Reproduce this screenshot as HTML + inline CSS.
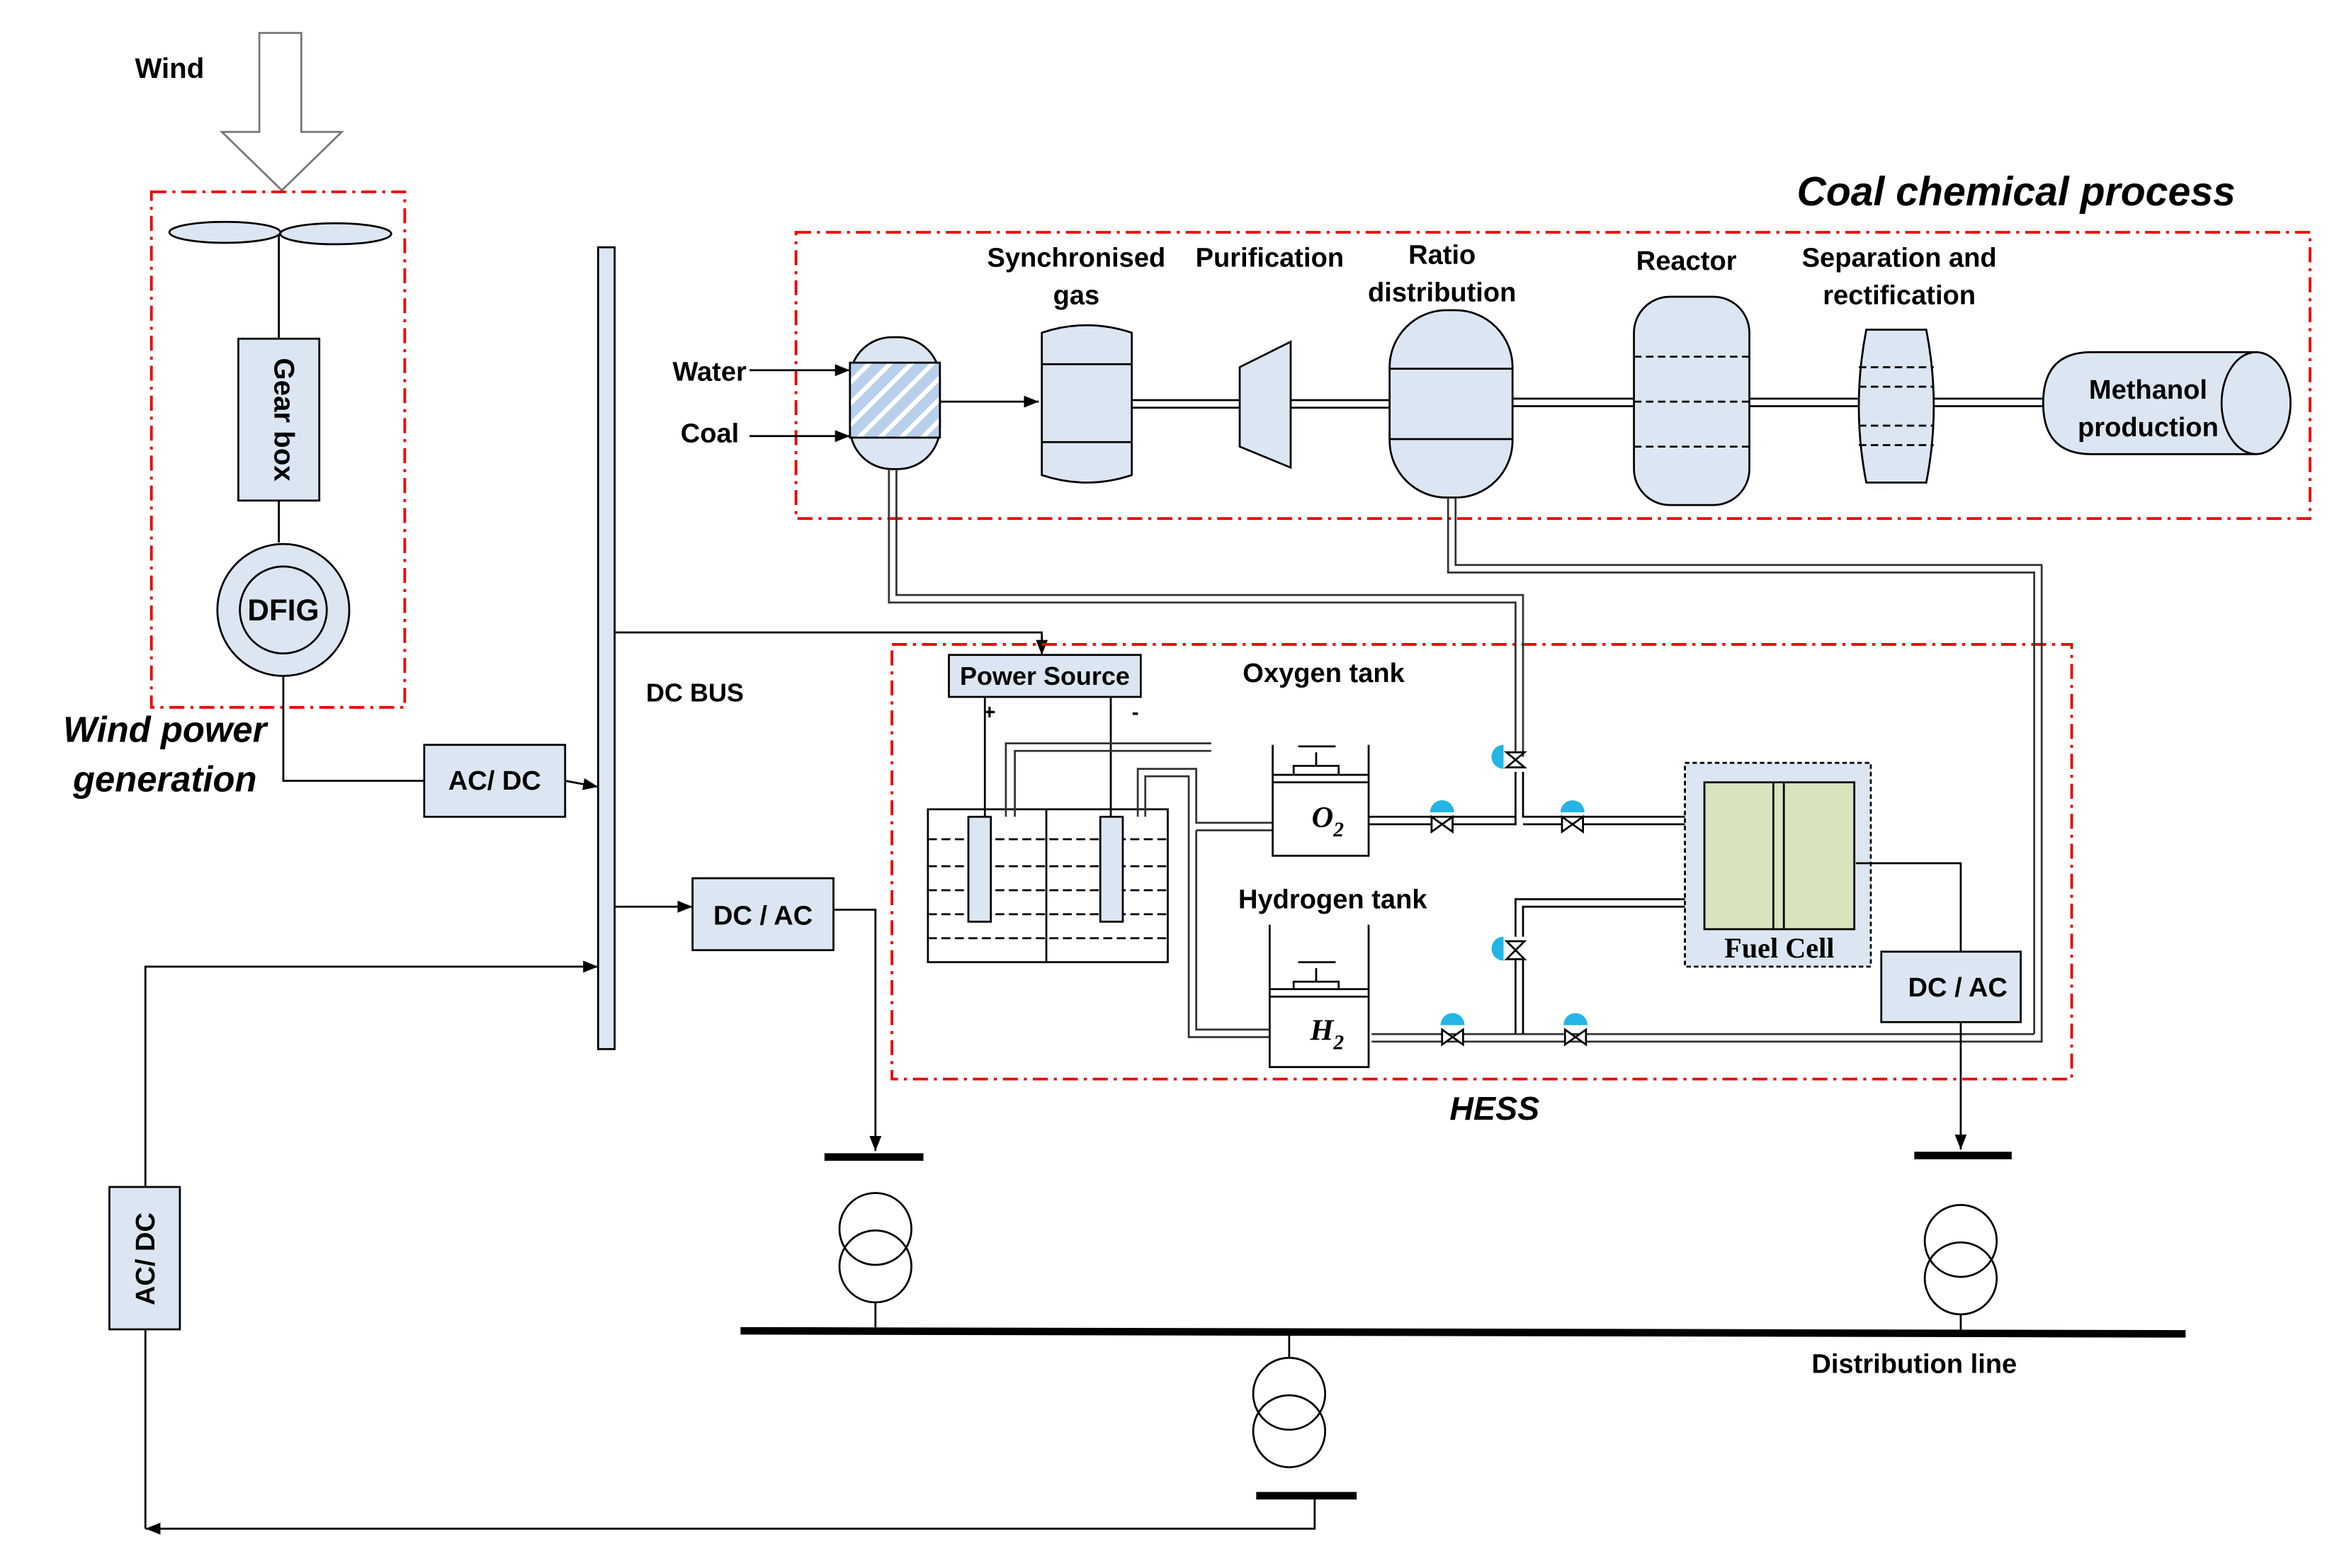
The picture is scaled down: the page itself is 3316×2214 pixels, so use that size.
<!DOCTYPE html>
<html><head><meta charset="utf-8"><style>html,body{margin:0;padding:0;background:#fff}svg{display:block}</style></head><body>
<svg width="3316" height="2214" viewBox="0 0 1567 1046" preserveAspectRatio="xMinYMin meet" xmlns="http://www.w3.org/2000/svg" font-family="Liberation Sans, sans-serif" font-weight="bold">
<defs>
<marker id="a" markerWidth="10" markerHeight="8" refX="10" refY="4" orient="auto" markerUnits="userSpaceOnUse"><path d="M0,0 L10,4 L0,8 z" fill="#000"/></marker>
<pattern id="h" width="10" height="10" patternUnits="userSpaceOnUse" patternTransform="rotate(-45)"><rect width="10" height="10" fill="#b8d0ec"/><rect width="10" height="3" fill="#fff"/></pattern>
</defs>
<g stroke="#000" stroke-width="1.3" fill="none">
<path d="M173,22 L201,22 L201,88 L228,88 L188,127 L148,88 L173,88 z" fill="#fff" stroke="#777"/>
<rect x="101" y="128" width="169" height="344" stroke="#e00" stroke-width="1.8" stroke-dasharray="10,4,2,4"/>
<ellipse cx="150" cy="155" rx="37" ry="7" fill="#dce6f2"/>
<ellipse cx="224" cy="156" rx="37" ry="7" fill="#dce6f2"/>
<line x1="186" y1="156" x2="186" y2="226"/>
<rect x="159" y="226" width="54" height="108" fill="#dce6f2"/>
<line x1="186" y1="334" x2="186" y2="362"/>
<circle cx="189" cy="407" r="44" fill="#dce6f2"/>
<circle cx="189" cy="407" r="29" fill="#dce6f2"/>
<polyline points="189,451 189,521 283,521"/>
<rect x="283" y="497" width="94" height="48" fill="#dce6f2"/>
<line x1="377" y1="521" x2="399" y2="525" marker-end="url(#a)"/>
<rect x="399" y="165" width="11" height="535" fill="#dce6f2"/>
<polyline points="410,422 695,422 695,437" marker-end="url(#a)"/>
<line x1="410" y1="605" x2="462" y2="605" marker-end="url(#a)"/>
<rect x="462" y="586" width="94" height="48" fill="#dce6f2"/>
<polyline points="556,607 584,607 584,768" marker-end="url(#a)"/>
<line x1="550" y1="772" x2="616" y2="772" stroke-width="5"/>
<circle cx="584" cy="820" r="24"/><circle cx="584" cy="845" r="24"/>
<line x1="584" y1="869" x2="584" y2="888"/>
<line x1="494" y1="888" x2="1458" y2="890" stroke-width="5"/>
<line x1="860" y1="889" x2="860" y2="906"/>
<circle cx="860" cy="930" r="24"/><circle cx="860" cy="955" r="24"/>
<line x1="838" y1="998" x2="905" y2="998" stroke-width="5"/>
<polyline points="877,998 877,1020 97,1020" marker-end="url(#a)"/>
<rect x="73" y="792" width="47" height="95" fill="#dce6f2"/>
<line x1="97" y1="887" x2="97" y2="1020"/>
<polyline points="97,792 97,645 399,645" marker-end="url(#a)"/>
<rect x="595" y="430" width="787" height="290" stroke="#e00" stroke-width="1.8" stroke-dasharray="10,4,2,4"/>
<rect x="531" y="155" width="1010" height="191" stroke="#e00" stroke-width="1.8" stroke-dasharray="10,4,2,4"/>
<line x1="500" y1="247" x2="567" y2="247" marker-end="url(#a)"/>
<line x1="500" y1="291" x2="567" y2="291" marker-end="url(#a)"/>
<rect x="567" y="225" width="60" height="88" rx="28" fill="#dce6f2"/>
<rect x="567" y="242" width="60" height="50" fill="url(#h)"/>
<line x1="627" y1="268" x2="693" y2="268" marker-end="url(#a)"/>
<path d="M695,222 Q725,212 755,222 L755,317 Q725,327 695,317 z" fill="#dce6f2"/>
<line x1="695" y1="243" x2="755" y2="243"/><line x1="695" y1="295" x2="755" y2="295"/>
<path d="M755,267 H827 M755,272 H827 M861,267 H927 M861,272 H927 M1009,266 H1090 M1009,271 H1090 M1167,266 H1240 M1167,271 H1240 M1290,266 H1363 M1290,271 H1363"/>
<polygon points="827,245 861,228 861,312 827,298" fill="#dce6f2"/>
<rect x="927" y="207" width="82" height="125" rx="38" fill="#dce6f2"/>
<line x1="927" y1="246" x2="1009" y2="246"/><line x1="927" y1="293" x2="1009" y2="293"/>
<rect x="1090" y="198" width="77" height="139" rx="24" fill="#dce6f2"/>
<g stroke-dasharray="5,3"><line x1="1090" y1="238" x2="1167" y2="238"/><line x1="1090" y1="268" x2="1167" y2="268"/><line x1="1090" y1="298" x2="1167" y2="298"/></g>
<path d="M1245,220 H1285 Q1295,271 1285,322 H1245 Q1235,271 1245,220 z" fill="#dce6f2"/>
<g stroke-dasharray="5,3"><line x1="1240" y1="245" x2="1290" y2="245"/><line x1="1240" y1="258" x2="1290" y2="258"/><line x1="1240" y1="284" x2="1290" y2="284"/><line x1="1240" y1="297" x2="1290" y2="297"/></g>
<path d="M1395,235 H1505 V303 H1395 Q1363,303 1363,269 Q1363,235 1395,235 z" fill="#dce6f2"/>
<ellipse cx="1505" cy="269" rx="23" ry="34" fill="#dce6f2"/>
<path d="M593,313 V402 H1011 V505 M598,313 V397 H1016 V505" stroke="#333"/>
<path d="M966,332 V382 H1357 V690 M971,332 V377 H1362 V695 H915 M915,690 H1357" stroke="#333"/>
<path d="M1011,515 V550 H913 M1016,515 V545 H1124 M913,545 H1011 M1016,550 H1124"/>
<path d="M1011,640 V690 M1016,640 V690 M1011,625 V600 H1124 M1016,625 V605 H1124"/>
<g fill="#fff"><path d="M1005,502 L1017,512 L1005,512 L1017,502 z"/><path d="M1005,628 L1017,640 L1005,640 L1017,628 z"/>
<path d="M955,545 L969,555 L969,545 L955,555 z"/><path d="M1042,545 L1056,555 L1056,545 L1042,555 z"/>
<path d="M962,687 L976,697 L976,687 L962,697 z"/><path d="M1044,687 L1058,697 L1058,687 L1044,697 z"/></g>
<g fill="#22b5e5" stroke="none"><path d="M1003,497 A8,8 0 0,0 1003,513 z"/><path d="M1003,625 A8,8 0 0,0 1003,641 z"/>
<path d="M954,542 A8,8 0 0,1 970,542 z"/><path d="M1041,542 A8,8 0 0,1 1057,542 z"/><path d="M961,684 A8,8 0 0,1 977,684 z"/><path d="M1043,684 A8,8 0 0,1 1059,684 z"/></g>
<rect x="633" y="437" width="128" height="28" fill="#dce6f2"/>
<line x1="657" y1="465" x2="657" y2="545"/><line x1="741" y1="465" x2="741" y2="545"/>
<rect x="619" y="540" width="160" height="102"/>
<g stroke-dasharray="6,3"><line x1="619" y1="560" x2="779" y2="560"/><line x1="619" y1="578" x2="779" y2="578"/><line x1="619" y1="594" x2="779" y2="594"/><line x1="619" y1="610" x2="779" y2="610"/><line x1="619" y1="626" x2="779" y2="626"/></g>
<line x1="698" y1="540" x2="698" y2="642"/>
<rect x="646" y="545" width="15" height="70" fill="#dce6f2"/><rect x="734" y="545" width="15" height="70" fill="#dce6f2"/>
<path d="M671,545 V496 H808 M677,545 V501 H808" stroke="#333"/>
<path d="M759,545 V513 H798 V549 H849 M764,545 V518 H793 V692 H847 M798,554 H849 M798,554 V687 H847" stroke="#333"/>
<rect x="849" y="517" width="64" height="54" fill="#fff"/>
<path d="M849,497 V517 M913,497 V517 M849,522 H913 M863,517 V511 H893 V517 M878,511 V502 M866,498 H891" />
<rect x="847" y="660" width="66" height="52" fill="#fff"/>
<path d="M847,617 V660 M913,617 V660 M847,665 H913 M863,660 V655 H893 V660 M878,655 V646 M866,642 H891"/>
<rect x="1124" y="509" width="124" height="136" fill="#dce6f2" stroke-dasharray="3,2"/>
<rect x="1137" y="522" width="100" height="98" fill="#d7e4bd"/>
<line x1="1183" y1="522" x2="1183" y2="620"/><line x1="1190" y1="522" x2="1190" y2="620"/>
<polyline points="1238,576 1308,576 1308,635"/>
<rect x="1255" y="635" width="93" height="47" fill="#dce6f2"/>
<line x1="1308" y1="682" x2="1308" y2="767" marker-end="url(#a)"/>
<line x1="1277" y1="771" x2="1342" y2="771" stroke-width="5"/>
<circle cx="1308" cy="828" r="24"/><circle cx="1308" cy="853" r="24"/>
<line x1="1308" y1="877" x2="1308" y2="889"/>
</g>
<g font-size="18" fill="#000">
<text x="90" y="52" font-size="19">Wind</text>
<text x="189" y="280" transform="rotate(90 189 280)" text-anchor="middle" dy="6" font-size="19">Gear box</text>
<text x="189" y="414" text-anchor="middle" font-size="20">DFIG</text>
<text x="110" y="495" text-anchor="middle" font-size="24" font-style="italic">Wind power</text>
<text x="110" y="528" text-anchor="middle" font-size="24" font-style="italic">generation</text>
<text x="330" y="527" text-anchor="middle">AC/ DC</text>
<text x="431" y="468" font-size="17">DC BUS</text>
<text x="509" y="617" text-anchor="middle">DC / AC</text>
<text x="97" y="840" transform="rotate(-90 97 840)" text-anchor="middle" dy="6">AC/ DC</text>
<text x="1345" y="137" text-anchor="middle" font-size="27" font-style="italic">Coal chemical process</text>
<text x="718" y="178" text-anchor="middle">Synchronised</text><text x="718" y="203" text-anchor="middle">gas</text>
<text x="847" y="178" text-anchor="middle">Purification</text>
<text x="962" y="176" text-anchor="middle">Ratio</text><text x="962" y="201" text-anchor="middle">distribution</text>
<text x="1125" y="180" text-anchor="middle">Reactor</text>
<text x="1267" y="178" text-anchor="middle">Separation and</text><text x="1267" y="203" text-anchor="middle">rectification</text>
<text x="1433" y="266" text-anchor="middle">Methanol</text><text x="1433" y="291" text-anchor="middle">production</text>
<text x="498" y="254" text-anchor="end">Water</text>
<text x="493" y="295" text-anchor="end">Coal</text>
<text x="697" y="457" text-anchor="middle" font-size="17">Power Source</text>
<text x="656" y="480" font-size="14">+</text><text x="755" y="480" font-size="14">-</text>
<text x="883" y="455" text-anchor="middle">Oxygen tank</text>
<text x="889" y="606" text-anchor="middle">Hydrogen tank</text>
<text x="875" y="552" font-family="Liberation Serif, serif" font-style="italic" font-size="20">O<tspan font-size="14" dy="6">2</tspan></text>
<text x="874" y="694" font-family="Liberation Serif, serif" font-style="italic" font-size="20">H<tspan font-size="14" dy="6">2</tspan></text>
<text x="1187" y="639" text-anchor="middle" font-family="Liberation Serif, serif" font-size="19">Fuel Cell</text>
<text x="1306" y="665" text-anchor="middle">DC / AC</text>
<text x="997" y="747" text-anchor="middle" font-size="22" font-style="italic">HESS</text>
<text x="1277" y="916" text-anchor="middle">Distribution line</text>
</g>
</svg>
</body></html>
